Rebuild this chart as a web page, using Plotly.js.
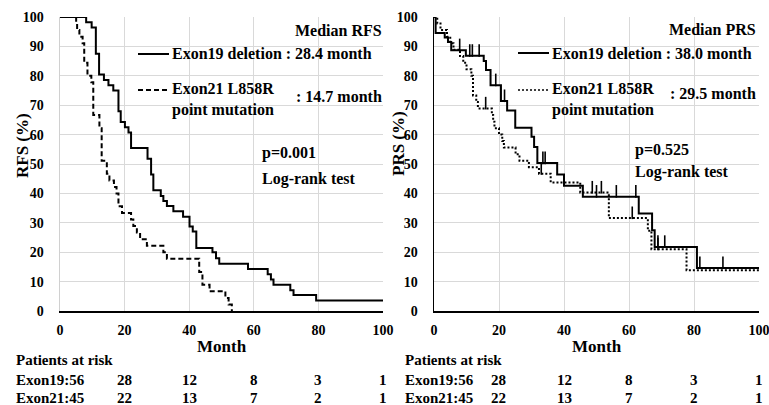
<!DOCTYPE html>
<html>
<head>
<meta charset="utf-8">
<script src="https://cdn.plot.ly/plotly-3.0.1.min.js"></script>
<style>html,body{margin:0;padding:0;background:#fff;}#chart{width:769px;height:405px;}</style>
</head>
<body>
<div id="chart"></div>
<script>
// ---- Data: RFS (left panel) ----
const rfsEx19Time = [0, 8.1, 9.8, 11.1, 12.1, 13.6, 15.0, 16.5, 18.1, 18.8, 20.1, 21.2, 22.0, 27.1, 28.2, 28.9, 31.2, 32.0, 33.1, 35.1, 38.1, 40.1, 41.1, 42.2, 47.2, 48.3, 49.3, 58.2, 64.3, 65.3, 66.1, 71.3, 72.3, 79.3, 100];
const rfsEx19Surv = [100, 98.2, 96.4, 87.5, 80.4, 78.6, 76.8, 75.0, 67.9, 64.3, 62.5, 60.7, 55.4, 51.8, 46.4, 41.1, 39.1, 37.4, 35.7, 33.9, 32.1, 28.7, 27.0, 21.4, 20.0, 17.9, 16.1, 14.3, 12.5, 10.7, 8.9, 7.1, 5.4, 3.6, 3.6];
const rfsEx21Time = [0, 5.0, 5.3, 6.0, 7.0, 7.5, 8.5, 9.7, 10.3, 12.2, 12.9, 14.5, 15.3, 16.7, 17.5, 18.1, 19.2, 22.0, 22.7, 23.8, 24.8, 26.9, 32.0, 33.1, 43.1, 44.1, 46.3, 51.2, 52.2, 53.2];
const rfsEx21Surv = [100, 97.8, 95.6, 93.3, 91.1, 84.4, 80.0, 77.8, 66.7, 62.2, 51.1, 46.7, 44.4, 42.2, 40.0, 35.6, 33.3, 31.1, 28.9, 26.7, 24.4, 22.2, 20.0, 17.8, 13.3, 8.9, 6.7, 4.4, 2.2, 0];

// ---- Data: PRS (right panel) ----
const prsEx19Time = [0, 0.5, 3.3, 4.3, 5.3, 9.8, 15.3, 16.0, 17.4, 20.6, 22.5, 25.0, 30.0, 30.8, 31.8, 37.9, 40.0, 45.8, 63.0, 67.1, 67.9, 80.9, 100];
const prsEx19Surv = [100, 94.6, 93.0, 91.5, 88.7, 86.8, 85.0, 82.0, 76.8, 71.4, 68.2, 62.3, 59.3, 55.8, 50.3, 46.4, 42.6, 38.9, 33.2, 27.5, 21.8, 14.6, 14.6];
const prsEx19Censor = [7.9, 11.0, 11.8, 13.9, 19.0, 21.7, 33.5, 34.2, 50.0, 56.1, 62.1, 68.9, 71.0, 81.8, 88.9];
const prsEx21Time = [0, 1.0, 2.0, 4.0, 5.0, 6.0, 8.0, 9.0, 10.0, 11.5, 12.0, 13.0, 13.5, 17.8, 18.2, 18.6, 20.0, 21.0, 21.5, 25.1, 26.3, 29.2, 32.3, 35.9, 45.0, 53.8, 65.8, 66.9, 77.7, 100];
const prsEx21Surv = [100, 97.8, 95.6, 93.3, 91.1, 88.9, 86.7, 84.4, 82.2, 80.0, 73.3, 71.1, 68.9, 66.7, 64.4, 62.2, 60.0, 57.8, 55.6, 53.3, 51.1, 48.9, 46.7, 43.7, 40.3, 31.6, 27.3, 21.0, 13.9, 13.9];
const prsEx21Censor = [15.9, 33.0, 48.7, 51.5, 61.0, 68.9];

// ---- Risk table ----
const riskTimes = [20, 40, 60, 80, 100];
const rfsRisk19 = [28, 12, 8, 3, 1];
const rfsRisk21 = [22, 13, 7, 2, 1];
const prsRisk19 = [28, 12, 8, 3, 1];
const prsRisk21 = [22, 13, 7, 2, 1];
const riskLabels = ['Patients at risk', 'Exon19:56', 'Exon21:45'];

// ---- Text ----
const leftTexts = {median: 'Median RFS', ex19: 'Exon19 deletion : 28.4 month', ex21: 'Exon21 L858R<br>point mutation', ex21m: ': 14.7 month', p: 'p=0.001', test: 'Log-rank test', ytitle: 'RFS (%)'};
const rightTexts = {median: 'Median PRS', ex19: 'Exon19 deletion : 38.0 month', ex21: 'Exon21 L858R<br>point mutation', ex21m: ': 29.5 month', p: 'p=0.525', test: 'Log-rank test', ytitle: 'PRS (%)'};

function stepAt(times, surv, t) {
  let v = surv[0];
  for (let i = 0; i < times.length; i++) { if (times[i] <= t) v = surv[i]; }
  return v;
}

const W = 769, H = 405;
const px = x => x / W;
const py = y => 1 - y / H;
const FONT = 'Liberation Serif';
const DASH = '5px,3px';
const DOT = '2px,2px';

function curve(x, y, dash, xa, ya) {
  return {x: x, y: y, type: 'scatter', mode: 'lines', line: {shape: 'hv', color: '#000', width: 2, dash: dash}, xaxis: xa, yaxis: ya, hoverinfo: 'skip'};
}
function censor(ct, times, surv, xa, ya) {
  return {x: ct, y: ct.map(t => stepAt(times, surv, t) + 1.8), type: 'scatter', mode: 'markers',
    marker: {symbol: 'line-ns-open', size: 9, color: '#000', line: {color: '#000', width: 1.6}}, xaxis: xa, yaxis: ya, hoverinfo: 'skip'};
}

const traces = [
  curve(rfsEx19Time, rfsEx19Surv, 'solid', 'x', 'y'),
  curve(rfsEx21Time, rfsEx21Surv, DASH, 'x', 'y'),
  curve(prsEx19Time, prsEx19Surv, 'solid', 'x2', 'y2'),
  curve(prsEx21Time, prsEx21Surv, DOT, 'x2', 'y2'),
  censor(prsEx19Censor, prsEx19Time, prsEx19Surv, 'x2', 'y2'),
  censor(prsEx21Censor, prsEx21Time, prsEx21Surv, 'x2', 'y2')
];

const tickFont = {family: FONT, size: 14, color: '#000', weight: 700};
function xAxis(domain, anchor) {
  return {domain: domain, anchor: anchor, range: [0, 100], tickvals: [0, 20, 40, 60, 80, 100], showgrid: true, gridcolor: '#d9d9d9', gridwidth: 1,
    zeroline: false, showline: true, linecolor: '#000', linewidth: 1.5, ticks: '', ticklabelstandoff: 6, ticklabeloverflow: 'allow',
    tickfont: tickFont, fixedrange: true};
}
function yAxis(domain, anchor, lineColor) {
  return {domain: domain, anchor: anchor, range: [0, 100], dtick: 10, tick0: 0, showgrid: true, gridcolor: '#d9d9d9', gridwidth: 1,
    zeroline: false, showline: true, linecolor: lineColor, linewidth: 1.5, ticks: '', ticklabelstandoff: 12, ticklabeloverflow: 'allow',
    tickfont: tickFont, fixedrange: true};
}

const yDom = [py(311), py(17)];
const ann = [];
const shapes = [];
function txt(text, x, y, xanchor, size, extra) {
  ann.push(Object.assign({text: text, x: px(x), y: py(y), xref: 'paper', yref: 'paper', xanchor: xanchor, yanchor: 'middle', showarrow: false,
    font: {family: FONT, size: size, color: '#000', weight: 700}}, extra || {}));
}

function panel(T, o, dash, xref, r19, r21) {
  txt(T.median, o.medianX, o.medianY, 'right', 16);
  shapes.push({type: 'line', xref: 'paper', yref: 'paper', x0: px(o.lineX0), x1: px(o.lineX1), y0: py(o.row1Y), y1: py(o.row1Y), line: {color: '#000', width: 2}});
  txt(T.ex19, o.textX, o.row1Y, 'left', 16);
  shapes.push({type: 'line', xref: 'paper', yref: 'paper', x0: px(o.lineX0), x1: px(o.lineX1), y0: py(o.row2Y), y1: py(o.row2Y), line: {color: '#000', width: dash === DOT ? 1.5 : 2, dash: dash}});
  txt(T.ex21, o.textX, o.row2Y - 1, 'left', 16, {yanchor: 'top', align: 'left', yshift: 11});
  txt(T.ex21m, o.medianX, o.row2mY, 'right', 16);
  txt(T.p, o.pX, o.pY, 'left', 16);
  txt(T.test, o.pX, o.testY, 'left', 16);
  txt(T.ytitle, o.ytX, o.ytY, 'center', 17, {textangle: -90});
  txt('Month', o.monthX, 346, 'center', 17);
  txt(riskLabels[0], o.tableX, 360, 'left', 15);
  txt(riskLabels[1], o.tableX, 380, 'left', 15);
  txt(riskLabels[2], o.tableX, 398, 'left', 15);
  riskTimes.forEach((t, i) => {
    ann.push({text: String(r19[i]), x: t, y: py(380), xref: xref, yref: 'paper', xanchor: 'center', yanchor: 'middle', showarrow: false, font: {family: FONT, size: 15, color: '#000', weight: 700}});
    ann.push({text: String(r21[i]), x: t, y: py(398), xref: xref, yref: 'paper', xanchor: 'center', yanchor: 'middle', showarrow: false, font: {family: FONT, size: 15, color: '#000', weight: 700}});
  });
}

panel(leftTexts, {medianX: 384, medianY: 31, lineX0: 138, lineX1: 169, textX: 170, row1Y: 54, row2Y: 90, row2mY: 96,
  pX: 260, pY: 153, testY: 179, ytX: 22, ytY: 146, monthX: 222, tableX: 14}, DASH, 'x', rfsRisk19, rfsRisk21);
panel(rightTexts, {medianX: 758, medianY: 29, lineX0: 518, lineX1: 549, textX: 550, row1Y: 53, row2Y: 90, row2mY: 93,
  pX: 633, pY: 150, testY: 172, ytX: 398, ytY: 144, monthX: 597, tableX: 403}, DOT, 'x2', prsRisk19, prsRisk21);

const layout = {
  width: W, height: H, margin: {l: 0, r: 0, t: 0, b: 0}, paper_bgcolor: '#fff', plot_bgcolor: '#fff', showlegend: false,
  xaxis: xAxis([px(60), px(383)], 'y'),
  yaxis: yAxis(yDom, 'x', '#d0d0d0'),
  xaxis2: xAxis([px(434), px(759)], 'y2'),
  yaxis2: yAxis(yDom, 'x2', '#000'),
  annotations: ann, shapes: shapes
};

Plotly.newPlot('chart', traces, layout, {staticPlot: true, displayModeBar: false});
</script>
</body>
</html>
